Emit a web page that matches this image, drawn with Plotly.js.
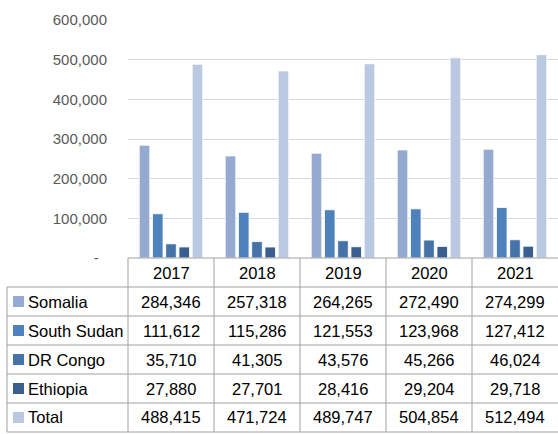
<!DOCTYPE html>
<html>
<head>
<meta charset="utf-8">
<script src="https://cdn.plot.ly/plotly-3.0.1.min.js"></script>
<style>html,body{margin:0;padding:0;background:#fff;}#chart{width:558px;height:434px;}</style>
</head>
<body>
<div id="chart"></div>
<script>
var years = ['2017', '2018', '2019', '2020', '2021'];
var seriesNames = ['Somalia', 'South Sudan', 'DR Congo', 'Ethiopia', 'Total'];
var somalia = [284346, 257318, 264265, 272490, 274299];
var southSudan = [111612, 115286, 121553, 123968, 127412];
var drCongo = [35710, 41305, 43576, 45266, 46024];
var ethiopia = [27880, 27701, 28416, 29204, 29718];
var total = [488415, 471724, 489747, 504854, 512494];
var colors = ['#95AAD0', '#4F81BD', '#4572A7', '#3A5E8E', '#BBC8E1'];
var yTickVals = [0, 100000, 200000, 300000, 400000, 500000, 600000];

var seriesValues = [somalia, southSudan, drCongo, ethiopia, total];

// layout geometry (pixels)
var W = 558, H = 434;
var mL = 128, mR = 0, mT = 20, mB = 176;
var plotW = W - mL - mR, plotH = H - mT - mB;
var bottomPx = H - mB;
var rowH = 29;
var tableLeftPx = 7;
var lineColor = '#A0A0A0';
function py(px) { return (bottomPx - px) / plotH; }
function pxX(px) { return (px - mL) / plotW; }
function catX(i) { return (i + 0.5) / years.length; }

function fmt(v) { return v.toLocaleString('en-US'); }

var traces = seriesNames.map(function (name, k) {
  return {
    type: 'bar', name: name, x: years, y: seriesValues[k],
    marker: {color: colors[k], line: {color: 'rgba(255,255,255,0.85)', width: 1}},
    hoverinfo: 'x+y+name'
  };
});

var shapes = [];
var annotations = [];
var fontFamily = '"Liberation Sans", Arial, sans-serif';

shapes.push({type: 'line', xref: 'paper', yref: 'paper', x0: 0, x1: 1, y0: py(bottomPx), y1: py(bottomPx), line: {color: lineColor, width: 1}});
for (var r = 1; r <= seriesNames.length + 1; r++) {
  var yy = py(bottomPx + r * rowH);
  shapes.push({type: 'line', xref: 'paper', yref: 'paper', x0: pxX(tableLeftPx), x1: 1, y0: yy, y1: yy, line: {color: lineColor, width: 1}});
}
var tableBottom = py(bottomPx + (seriesNames.length + 1) * rowH);
shapes.push({type: 'line', xref: 'paper', yref: 'paper', x0: pxX(tableLeftPx), x1: pxX(tableLeftPx), y0: py(bottomPx + rowH), y1: tableBottom, line: {color: lineColor, width: 1}});
for (var c = 0; c < years.length; c++) {
  var xx = c / years.length;
  shapes.push({type: 'line', xref: 'paper', yref: 'paper', x0: xx, x1: xx, y0: py(bottomPx), y1: tableBottom, line: {color: lineColor, width: 1}});
}
years.forEach(function (yr, i) {
  annotations.push({xref: 'paper', yref: 'paper', x: catX(i), y: py(bottomPx + rowH / 2), text: yr, showarrow: false,
    xanchor: 'center', yanchor: 'middle', font: {family: fontFamily, size: 16.5, color: '#000'}});
});
seriesNames.forEach(function (name, k) {
  var cy = bottomPx + rowH * (k + 1) + rowH / 2;
  shapes.push({type: 'rect', xref: 'paper', yref: 'paper', x0: pxX(13), x1: pxX(24), y0: py(cy - 5.5), y1: py(cy + 5.5),
    fillcolor: colors[k], line: {width: 0}});
  annotations.push({xref: 'paper', yref: 'paper', x: pxX(26), y: py(cy), text: name, showarrow: false,
    xanchor: 'left', yanchor: 'middle', font: {family: fontFamily, size: 16.5, color: '#000'}});
  years.forEach(function (yr, i) {
    annotations.push({xref: 'paper', yref: 'paper', x: catX(i), y: py(cy), text: fmt(seriesValues[k][i]), showarrow: false,
      xanchor: 'center', yanchor: 'middle', font: {family: fontFamily, size: 16.5, color: '#000'}});
  });
});

var layout = {
  width: W, height: H,
  margin: {l: mL, r: mR, t: mT, b: mB, pad: 0},
  paper_bgcolor: '#fff', plot_bgcolor: '#fff',
  showlegend: false,
  barmode: 'group', bargap: 0.23, bargroupgap: 0.2,
  xaxis: {type: 'category', range: [-0.5, years.length - 0.5], showticklabels: false, showgrid: false,
    zeroline: false, showline: false, ticks: ''},
  yaxis: {range: [0, 600000], tickvals: yTickVals,
    ticktext: yTickVals.map(function (v) { return v === 0 ? '-\u00a0\u00a0' : fmt(v); }),
    showgrid: true, gridcolor: '#D9D9D9', gridwidth: 1, zeroline: false, showline: false, ticks: '',
    ticklabelstandoff: 20,
    tickfont: {family: fontFamily, size: 15, color: '#595959'}},
  shapes: shapes,
  annotations: annotations
};

Plotly.newPlot('chart', traces, layout, {displayModeBar: false, staticPlot: true});
</script>
</body>
</html>
